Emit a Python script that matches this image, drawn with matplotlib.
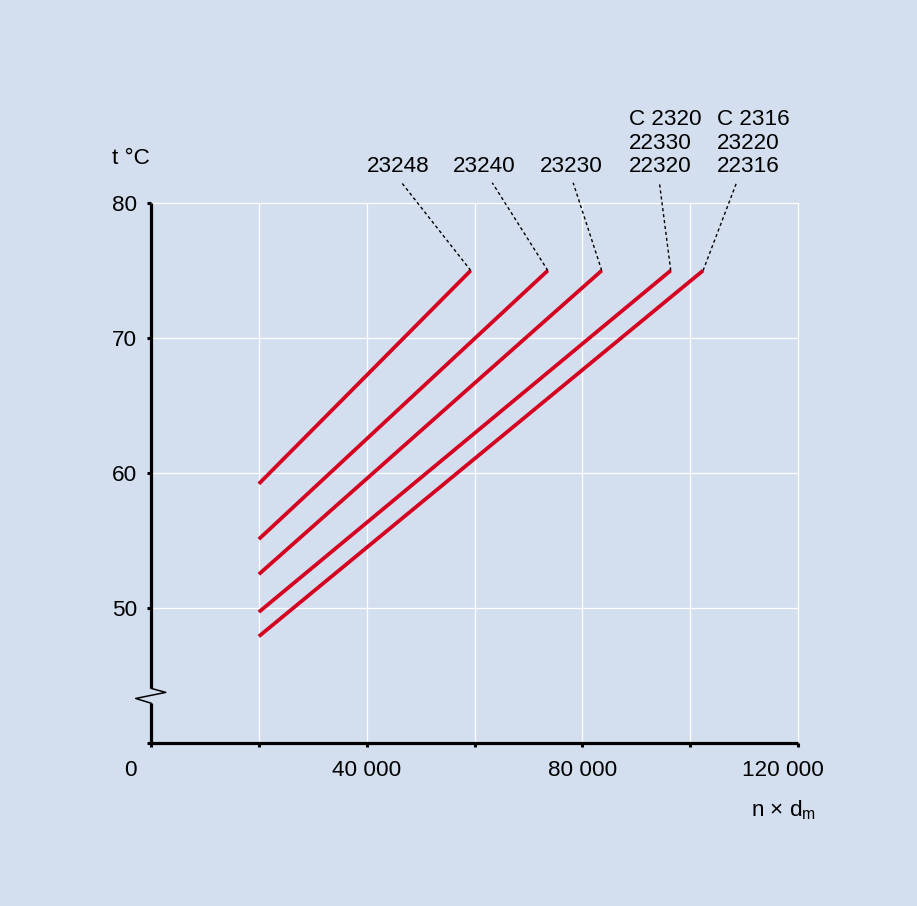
import matplotlib
matplotlib.use('Agg')
import matplotlib.pyplot as plt
import matplotlib.transforms as mtransforms

plt.rcParams.update({
    'font.family': ['Liberation Sans', 'DejaVu Sans'],
    'mathtext.fontset': 'custom',
    'mathtext.rm': 'Liberation Sans',
    'font.size': 16.2,
})

# data
bearing_labels = ['23248', '23240', '23230', 'C 2320\n22330\n22320', 'C 2316\n23220\n22316']
x_start = [20000, 20000, 20000, 20000, 20000]
t_start = [59.2, 55.1, 52.5, 49.7, 47.9]
x_end = [59300, 73600, 83600, 96400, 102400]
t_end = [75, 75, 75, 75, 75]
# where the dashed leaders reach up to, and where each label sits
leader_x = [46500, 63300, 78300, 94300, 108600]
label_x = [45800, 61800, 78000, 88600, 104900]
label_ha = ['center', 'center', 'center', 'left', 'left']

x_ticks = [0, 20000, 40000, 60000, 80000, 100000, 120000]
x_ticklabels = ['', '', '40 000', '', '80 000', '', '']
y_ticks = [40, 50, 60, 70, 80]
y_ticklabels = ['', '50', '60', '70', '80']

bg = '#d3deee'
red = '#d5001f'

fig = plt.figure(figsize=(9.17, 9.06), dpi=100, facecolor=bg)
ax = fig.add_axes([0.1647, 0.1799, 0.7055, 0.596])
ax.set_facecolor(bg)
ax.set_xlim(0, 120000)
ax.set_ylim(40, 80)

# white grid
for gx in x_ticks[1:]:
    ax.axvline(gx, color='white', lw=0.9, zorder=1, clip_on=False)
for gy in y_ticks[1:]:
    ax.axhline(gy, color='white', lw=0.9, zorder=1, clip_on=False)

# red lines
for xs, ts, xe, te in zip(x_start, t_start, x_end, t_end):
    ax.plot([xs, xe], [ts, te], color=red, lw=2.7, solid_capstyle='butt', zorder=3)

# dashed leaders and labels
label_y = 82.3
leader_top = 81.5
for xe, te, lx, tx, txt, ha in zip(x_end, t_end, leader_x, label_x, bearing_labels, label_ha):
    ax.plot([xe, lx], [te, leader_top], color='black', lw=1.0,
            linestyle=(0, (2.3, 2.0)), clip_on=False, zorder=4)
    ax.text(tx, label_y, txt, ha=ha, va='baseline', linespacing=1.15,
            clip_on=False)

# axes
for s in ['top', 'right', 'left']:
    ax.spines[s].set_visible(False)
ax.spines['bottom'].set_linewidth(2.3)
ax.spines['bottom'].set_capstyle('butt')

ax.set_xticks(x_ticks)
ax.set_xticklabels(x_ticklabels)
ax.set_yticks(y_ticks)
ax.set_yticklabels(y_ticklabels)
ax.tick_params(axis='x', direction='out', length=3, width=2.2, pad=9.5)
ax.tick_params(axis='y', direction='out', length=3, width=2.2, pad=7)

# y axis with a break
brk_hi, brk_lo = 44.05, 42.95
axk = dict(color='black', lw=2.3, solid_capstyle='butt', clip_on=False, zorder=5)
ax.plot([0, 0], [80, brk_hi], **axk)
ax.plot([0, 0], [brk_lo, 40], **axk)
zig_dx = [0, 2730, -2850, 0]
zig_y = [brk_hi, 43.75, 43.3, brk_lo]
ax.plot(zig_dx, zig_y, color='black', lw=1.1, clip_on=False, zorder=5)

# labels outside the tick labels
off0 = mtransforms.ScaledTranslation(-15 / 72, -12.5 / 72, fig.dpi_scale_trans)
ax.text(0, 0, '0', transform=ax.get_xaxis_transform() + off0,
        ha='center', va='top')
off1 = mtransforms.ScaledTranslation(-11 / 72, -12.5 / 72, fig.dpi_scale_trans)
ax.text(120000, 0, '120 000', transform=ax.get_xaxis_transform() + off1,
        ha='center', va='top')

fig.text(112 / 917, 1 - 159 / 906, 't °C', ha='left', va='center')
fig.text(751 / 917, 1 - 810 / 906, r'n × d$_{\mathrm{m}}$', ha='left', va='center')

fig.savefig('out.png', dpi=100, facecolor=bg)
